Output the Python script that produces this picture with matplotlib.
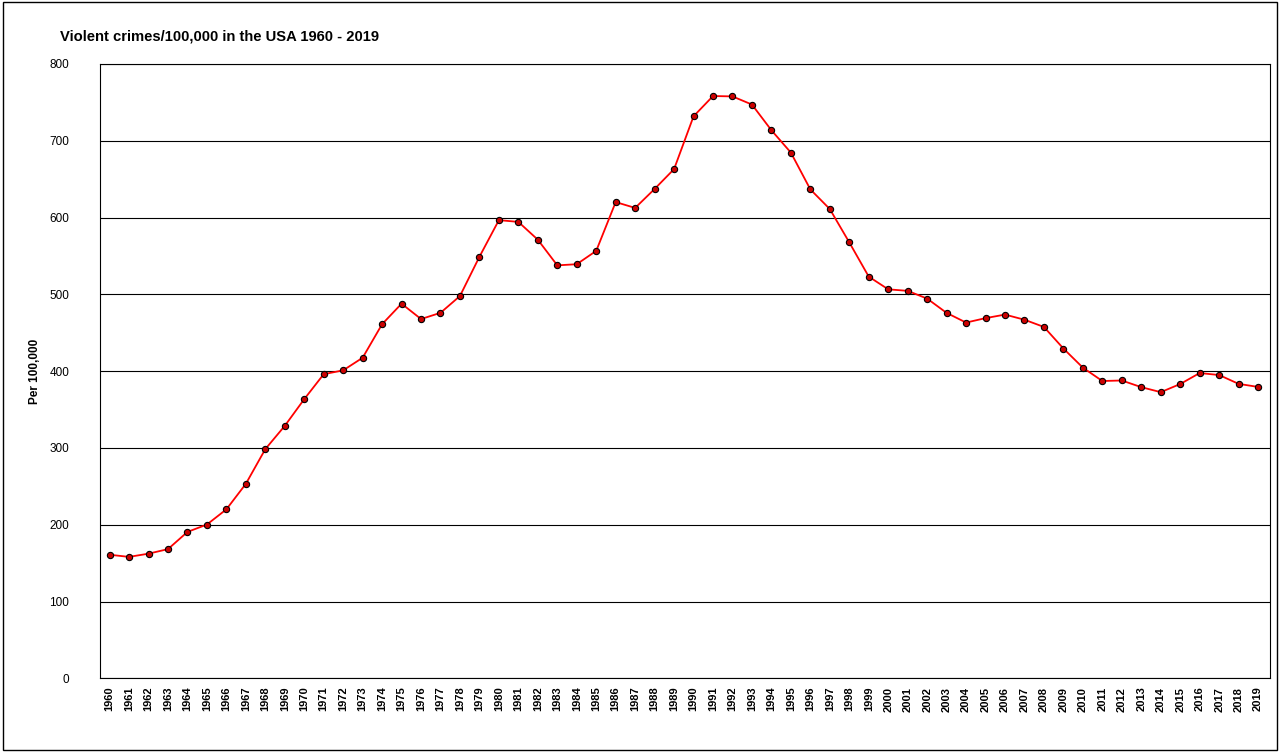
import matplotlib.pyplot as plt
from matplotlib.patches import Rectangle

years = list(range(1960, 2020))
rates = [160.9, 158.1, 162.3, 168.2, 190.6, 200.2, 220.0, 253.2, 298.4, 328.7,
         363.5, 396.0, 401.0, 417.4, 461.1, 487.8, 467.8, 475.9, 497.8, 548.9,
         596.6, 594.3, 571.1, 537.7, 539.2, 556.6, 620.1, 612.5, 637.2, 663.1,
         731.8, 758.2, 757.7, 747.1, 713.6, 684.5, 636.6, 611.0, 567.6, 523.0,
         506.5, 504.5, 494.4, 475.8, 463.2, 469.0, 473.6, 466.9, 457.5, 429.4,
         404.5, 387.1, 387.8, 379.1, 372.6, 383.2, 397.5, 394.9, 383.4, 379.4]

plt.rcParams['font.family'] = ['Arial', 'Liberation Sans', 'DejaVu Sans']

fig = plt.figure(figsize=(12.8, 7.52), dpi=100)
fig.patches.append(Rectangle((0.002, 0.003), 0.996, 0.994, transform=fig.transFigure,
                             fill=False, edgecolor='black', linewidth=1))
ax = fig.add_axes([0.078, 0.098, 0.914, 0.817])

ax.plot(years, rates, color='red', linewidth=1.3, marker='o', markersize=4.5,
        markerfacecolor='#cc0000', markeredgecolor='black', markeredgewidth=0.8)

ax.set_ylim(0, 800)
ax.set_xlim(1959.5, 2019.6)
ax.set_yticks(range(0, 801, 100))
ax.set_xticks(years)
ax.set_xticklabels([str(y) for y in years], rotation=90, fontsize=8, fontweight='bold')
ax.tick_params(axis='y', labelsize=8.5, length=0, pad=22)
ax.tick_params(axis='x', length=0, pad=6)
ax.grid(axis='y', color='black', linewidth=0.8)
ax.set_axisbelow(True)
for s in ax.spines.values():
    s.set_linewidth(0.8)

ax.set_ylabel('Per 100,000', fontsize=8.5, fontweight='bold', labelpad=6)
fig.text(0.047, 0.951, 'Violent crimes/100,000 in the USA 1960 - 2019',
         fontsize=10.6, fontweight='bold', va='center')

fig.savefig('out.png', dpi=100)
